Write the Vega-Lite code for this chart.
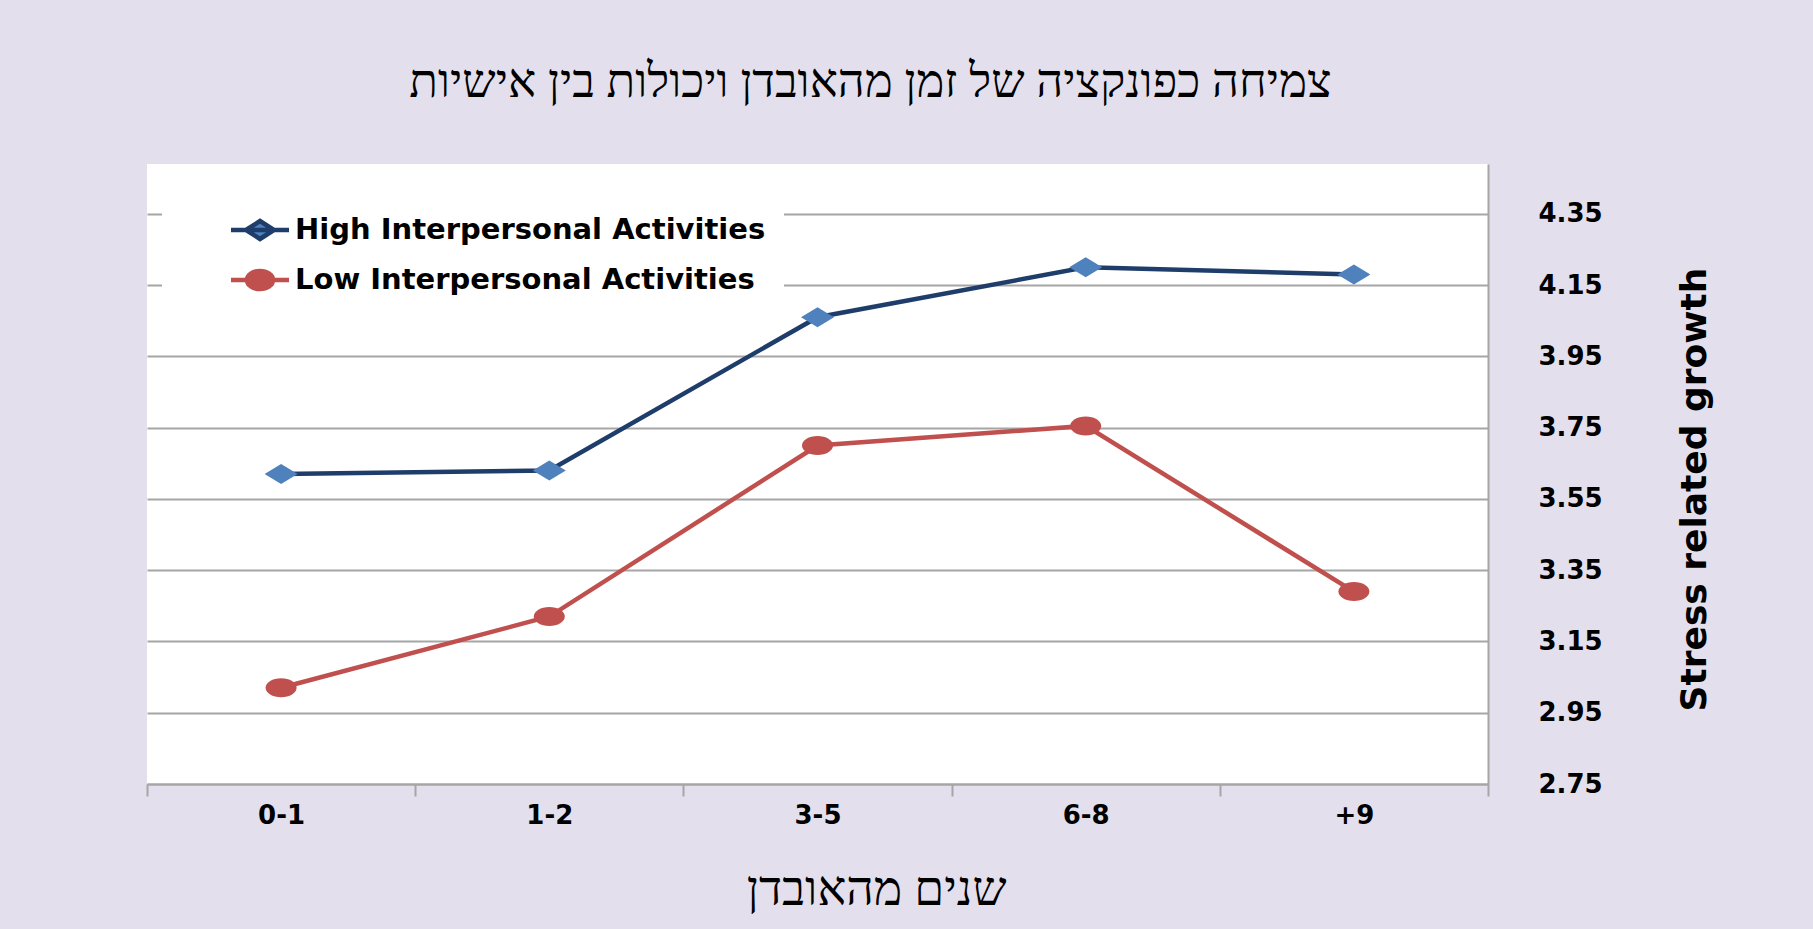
{
  "$schema": "https://vega.github.io/schema/vega-lite/v6.json",
  "width": 1341,
  "height": 620,
  "autosize": {"type": "none"},
  "padding": {"left": 147, "top": 164, "right": 325, "bottom": 145},
  "background": "#e4dfec",
  "config": {"view": {"fill": "white", "stroke": null}},
  "title": {
    "text": "צמיחה כפונקציה של זמן מהאובדן ויכולות בין אישיות",
    "font": "Liberation Serif",
    "fontSize": 47,
    "fontWeight": "normal",
    "color": "black",
    "anchor": "middle",
    "dx": 53,
    "offset": 34,
    "baseline": "middle"
  },
  "data": {
    "values": [
      {"years": "0-1", "series": "High Interpersonal Activities", "value": 3.62},
      {"years": "1-2", "series": "High Interpersonal Activities", "value": 3.63},
      {"years": "3-5", "series": "High Interpersonal Activities", "value": 4.06},
      {"years": "6-8", "series": "High Interpersonal Activities", "value": 4.2},
      {"years": "+9", "series": "High Interpersonal Activities", "value": 4.18},
      {"years": "0-1", "series": "Low Interpersonal Activities", "value": 3.02},
      {"years": "1-2", "series": "Low Interpersonal Activities", "value": 3.22},
      {"years": "3-5", "series": "Low Interpersonal Activities", "value": 3.7},
      {"years": "6-8", "series": "Low Interpersonal Activities", "value": 3.755},
      {"years": "+9", "series": "Low Interpersonal Activities", "value": 3.29}
    ]
  },
  "encoding": {
    "x": {
      "field": "years",
      "type": "ordinal",
      "sort": ["0-1", "1-2", "3-5", "6-8", "+9"],
      "scale": {"type": "band", "paddingInner": 0, "paddingOuter": 0},
      "bandPosition": 0.5,
      "axis": {
        "tickBand": "extent",
        "ticks": true,
        "tickSize": 12,
        "tickColor": "#a6a6a6",
        "tickWidth": 2,
        "domainColor": "#a6a6a6",
        "domainWidth": 2,
        "grid": false,
        "labelAngle": 0,
        "labelFont": "DejaVu Sans",
        "labelFontWeight": "bold",
        "labelFontSize": 26,
        "labelColor": "black",
        "labelPadding": 6,
        "title": "שנים מהאובדן",
        "titleFont": "Liberation Serif",
        "titleFontSize": 48,
        "titleFontWeight": "normal",
        "titleColor": "black",
        "titleX": 729,
        "titleY": 106,
        "titleBaseline": "middle",
        "titleAlign": "center"
      }
    },
    "y": {
      "field": "value",
      "type": "quantitative",
      "scale": {"domain": [2.75, 4.49], "nice": false, "zero": false},
      "axis": {
        "orient": "right",
        "values": [2.75, 2.95, 3.15, 3.35, 3.55, 3.75, 3.95, 4.15, 4.35],
        "format": ".2f",
        "ticks": false,
        "domainColor": "#a6a6a6",
        "domainWidth": 2,
        "gridColor": "#a6a6a6",
        "gridWidth": 2,
        "labelFont": "DejaVu Sans",
        "labelFontWeight": "bold",
        "labelFontSize": 26,
        "labelColor": "black",
        "labelPadding": 50,
        "title": "Stress related growth",
        "titleFont": "DejaVu Sans",
        "titleFontWeight": "bold",
        "titleFontSize": 36,
        "titleColor": "black",
        "titleAngle": 270,
        "titleX": 206,
        "titleY": 325,
        "titleBaseline": "middle",
        "titleAlign": "center"
      }
    }
  },
  "layer": [
    {
      "mark": {"type": "line", "strokeWidth": 4.5},
      "encoding": {
        "stroke": {
          "field": "series",
          "type": "nominal",
          "scale": {"range": ["#1f3d6b", "#c0504d"]},
          "legend": {
            "title": null,
            "orient": "none",
            "legendX": 15,
            "legendY": 31,
            "fillColor": "white",
            "padding": 18,
            "symbolSize": 841,
            "symbolStrokeWidth": 4.5,
            "symbolOffset": 63,
            "labelOffset": 18,
            "rowPadding": 14,
            "labelFont": "DejaVu Sans",
            "labelFontWeight": "bold",
            "labelFontSize": 29,
            "labelColor": "black",
            "labelLimit": 800,
            "encode": {
              "symbols": {
                "update": {
                  "shape": {"signal": "datum.value === 'High Interpersonal Activities' ? 'M-2,0L2,0M-0.97,0L0,-0.62L0.97,0L0,0.62Z' : 'M-2,0L2,0M-0.9,0A0.9,0.62 0 1,0 0.9,0A0.9,0.62 0 1,0 -0.9,0Z'"},
                  "fill": {"signal": "datum.value === 'High Interpersonal Activities' ? '#4f81bd' : '#c0504d'"},
                  "opacity": {"value": 1}
                }
              }
            }
          }
        }
      }
    },
    {
      "mark": {"type": "point", "filled": true, "size": 400, "opacity": 1, "strokeWidth": 0},
      "encoding": {
        "fill": {
          "field": "series",
          "type": "nominal",
          "scale": {"range": ["#4f81bd", "#c0504d"]},
          "legend": null
        },
        "shape": {
          "field": "series",
          "type": "nominal",
          "scale": {"range": ["M-1.65,0L0,-1L1.65,0L0,1Z", "M-1.55,0A1.55,0.95 0 1,0 1.55,0A1.55,0.95 0 1,0 -1.55,0Z"]},
          "legend": null
        }
      }
    }
  ]
}
